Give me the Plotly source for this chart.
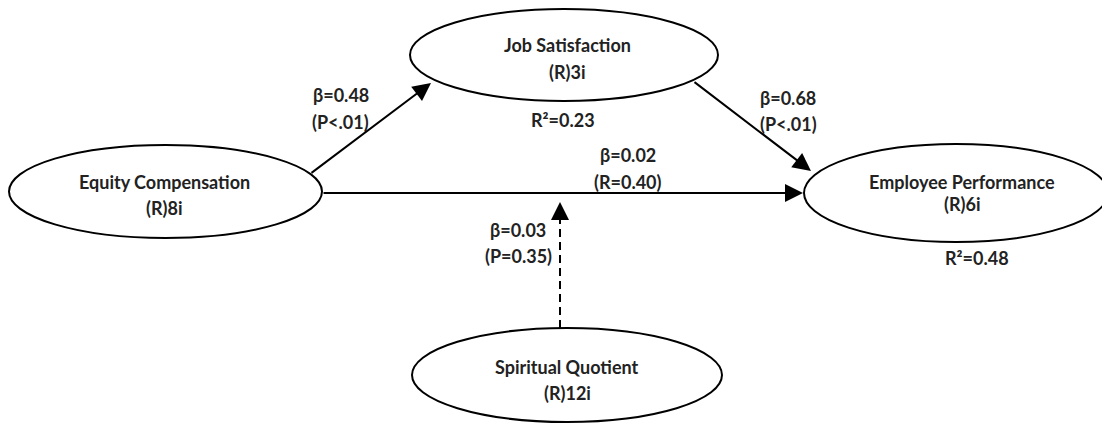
import plotly.graph_objects as go

# ---- data ----
node_names = ["Equity Compensation", "Job Satisfaction", "Employee Performance", "Spiritual Quotient"]
node_codes = ["(R)8i", "(R)3i", "(R)6i", "(R)12i"]
path_betas = ["β=0.48", "β=0.68", "β=0.02", "β=0.03"]
path_stats = ["(P<.01)", "(P<.01)", "(R=0.40)", "(P=0.35)"]
r2_labels = ["R²=0.23", "R²=0.48"]

# ---- layout geometry (page pixels, y downwards) ----
W, H = 1110, 424
PAD = 8  # default page body margin
ellipses = [  # (cx, cy, rx, ry)
    (165.5, 191.5, 156.5, 46.5),
    (564, 55, 154, 46),
    (956, 193, 152, 49),
    (567, 375, 155, 47),
]
name_pos = [(164, 182), (567, 45), (962, 182), (567, 367)]
code_pos = [(164, 208), (567, 72), (962, 204), (567, 393)]
beta_pos = [(341, 95), (788, 98), (628, 155), (518, 230)]
stat_pos = [(340, 122), (788, 124), (628, 182), (518, 256)]
r2_pos = [(563, 120), (977, 258)]
arrows = [  # (x_start, y_start, x_tip, y_tip)
    (310, 174, 431, 83),
    (693, 81, 811, 171),
    (322, 193, 803, 193),
]
dash_line = (560, 328, 560, 214)
dash_head = (560, 216, 560, 202)

FONT = dict(family="Lato", size=18, color="#222222", weight="bold")

fig = go.Figure()
fig.add_trace(go.Scatter(x=[PAD, W + PAD], y=[PAD, H + PAD], mode="markers", marker=dict(opacity=0),
                         hoverinfo="skip", showlegend=False))

shapes = []
for cx, cy, rx, ry in ellipses:
    shapes.append(dict(type="circle", xref="x", yref="y", x0=cx - rx, x1=cx + rx, y0=cy - ry, y1=cy + ry,
                       line=dict(color="black", width=2), fillcolor="white", layer="below"))
x0, y0, x1, y1 = dash_line
shapes.append(dict(type="line", xref="x", yref="y", x0=x0, y0=y0, x1=x1, y1=y1,
                   line=dict(color="black", width=2, dash="8px,5px")))

annotations = []
for i in range(len(node_names)):
    annotations.append(dict(x=name_pos[i][0], y=name_pos[i][1], text=node_names[i], showarrow=False, font=FONT))
    annotations.append(dict(x=code_pos[i][0], y=code_pos[i][1], text=node_codes[i], showarrow=False, font=FONT))
for i in range(len(path_betas)):
    annotations.append(dict(x=beta_pos[i][0], y=beta_pos[i][1], text=path_betas[i], showarrow=False, font=FONT))
    annotations.append(dict(x=stat_pos[i][0], y=stat_pos[i][1], text=path_stats[i], showarrow=False, font=FONT))
for i in range(len(r2_labels)):
    annotations.append(dict(x=r2_pos[i][0], y=r2_pos[i][1], text=r2_labels[i], showarrow=False, font=FONT))

for xs, ys, xt, yt in arrows + [dash_head]:
    annotations.append(dict(x=xt, y=yt, ax=xs, ay=ys, xref="x", yref="y", axref="x", ayref="y",
                            text="", showarrow=True, arrowhead=2, arrowsize=1.8, arrowwidth=2,
                            arrowcolor="black", standoff=0))

fig.update_layout(
    width=W, height=H, margin=dict(l=0, r=0, t=0, b=0),
    paper_bgcolor="white", plot_bgcolor="white",
    xaxis=dict(range=[PAD, W + PAD], visible=False, fixedrange=True),
    yaxis=dict(range=[H + PAD, PAD], visible=False, fixedrange=True),
    shapes=shapes, annotations=annotations, showlegend=False,
)
fig.write_html("out.html")
